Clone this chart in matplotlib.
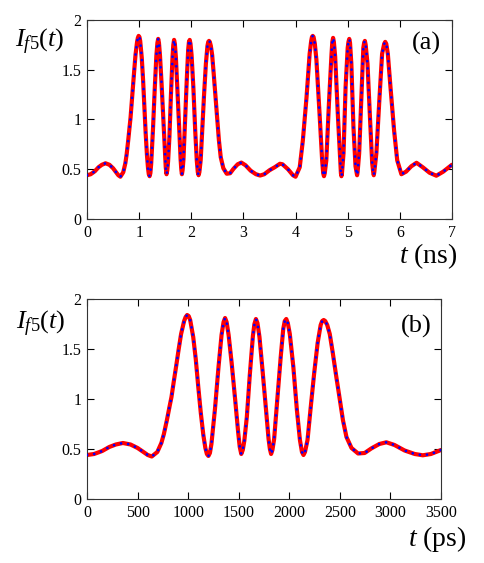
import matplotlib
matplotlib.use("Agg")
import matplotlib.pyplot as plt

plt.rcParams['font.family'] = ['Liberation Serif', 'DejaVu Serif']
plt.rcParams['mathtext.fontset'] = 'custom'
plt.rcParams['mathtext.rm'] = 'Liberation Serif'
plt.rcParams['mathtext.it'] = 'Liberation Serif:italic'

# panel (b): one pulse train, t in ps
t_ps = [0, 70, 150, 220, 285, 355, 430, 500, 565, 600, 640, 695, 735, 760, 790,
        815, 835, 860, 880, 905, 930, 960, 975, 990, 1005, 1020, 1050, 1075,
        1100, 1125, 1150, 1170, 1185, 1200, 1215, 1230, 1265, 1300, 1330, 1350,
        1365, 1380, 1400, 1430, 1465, 1495, 1510, 1525, 1540, 1555, 1580, 1610,
        1640, 1655, 1670, 1685, 1705, 1735, 1770, 1795, 1808, 1820, 1833, 1850,
        1880, 1915, 1940, 1955, 1970, 1985, 2005, 2040, 2075, 2105, 2125, 2140,
        2155, 2180, 2210, 2245, 2280, 2310, 2325, 2340, 2355, 2375, 2400, 2430,
        2465, 2500, 2530, 2565, 2615, 2680, 2745, 2810, 2890, 2960, 3040, 3140,
        3240, 3320, 3400, 3500]
i_ps = [0.44, 0.45, 0.48, 0.52, 0.545, 0.56, 0.545, 0.51, 0.465, 0.44, 0.425,
        0.47, 0.56, 0.65, 0.79, 0.92, 1.02, 1.19, 1.32, 1.49, 1.65, 1.78, 1.82,
        1.84, 1.83, 1.79, 1.62, 1.40, 1.12, 0.86, 0.64, 0.51, 0.45, 0.43, 0.46,
        0.55, 0.90, 1.32, 1.64, 1.77, 1.81, 1.77, 1.64, 1.36, 0.99, 0.66, 0.52,
        0.45, 0.49, 0.58, 0.82, 1.25, 1.63, 1.75, 1.80, 1.76, 1.62, 1.29, 0.89,
        0.60, 0.50, 0.45, 0.49, 0.60, 0.98, 1.42, 1.70, 1.78, 1.80, 1.76, 1.65,
        1.32, 0.89, 0.59, 0.47, 0.44, 0.47, 0.59, 0.90, 1.25, 1.56, 1.74, 1.78,
        1.79, 1.78, 1.74, 1.65, 1.46, 1.22, 0.99, 0.79, 0.62, 0.51, 0.455, 0.46,
        0.505, 0.55, 0.567, 0.54, 0.485, 0.45, 0.437, 0.45, 0.49]

# panel (a): second train, t in ns (first half is the same as panel (b))
t_ns_2 = [3.60, 3.70, 3.75, 3.855, 3.95, 4.00, 4.08, 4.14, 4.21, 4.27, 4.30,
          4.315, 4.33, 4.345, 4.37, 4.40, 4.46, 4.51, 4.53, 4.545, 4.56, 4.59,
          4.64, 4.69, 4.705, 4.72, 4.735, 4.76, 4.81, 4.86, 4.87, 4.88, 4.89,
          4.92, 4.96, 5.00, 5.015, 5.03, 5.045, 5.07, 5.11, 5.15, 5.17, 5.18,
          5.19, 5.22, 5.27, 5.30, 5.315, 5.33, 5.345, 5.38, 5.43, 5.47, 5.49,
          5.50, 5.51, 5.55, 5.61, 5.66, 5.70, 5.72, 5.74, 5.77, 5.82, 5.89,
          5.95, 6.03, 6.12, 6.22, 6.32, 6.44, 6.57, 6.70, 6.83, 7.00]
i_ns_2 = [0.52, 0.555, 0.55, 0.50, 0.44, 0.425, 0.52, 0.79, 1.22, 1.66, 1.79,
          1.83, 1.84, 1.83, 1.76, 1.60, 1.06, 0.59, 0.46, 0.43, 0.46, 0.59,
          1.16, 1.66, 1.78, 1.82, 1.78, 1.63, 1.06, 0.56, 0.46, 0.43, 0.46,
          0.66, 1.33, 1.72, 1.78, 1.81, 1.77, 1.56, 0.93, 0.53, 0.47, 0.44,
          0.47, 0.66, 1.33, 1.72, 1.77, 1.79, 1.75, 1.56, 0.99, 0.56, 0.47,
          0.44, 0.47, 0.66, 1.22, 1.66, 1.76, 1.78, 1.76, 1.66, 1.33, 0.89,
          0.59, 0.45, 0.476, 0.53, 0.565, 0.52, 0.465, 0.435, 0.475, 0.545]

t_ns = [t / 1000 for t in t_ps] + t_ns_2
i_ns = i_ps + i_ns_2

y_ticks = [0, 0.5, 1, 1.5, 2]
y_labels = ['0', '0.5', '1', '1.5', '2']


def dibujar(ax, t, y):
    ax.plot(t, y, color='#ff0000', lw=3.0, solid_capstyle='round',
            solid_joinstyle='round', zorder=2)
    ax.plot(t, y, color='#0000ff', lw=2.0, linestyle=(0, (0.01, 2.6)),
            dash_capstyle='round', zorder=3)
    ax.set_ylim(0, 2)
    ax.set_yticks(y_ticks)
    ax.set_yticklabels(y_labels)
    ax.tick_params(direction='in', top=True, right=True, length=5, width=0.8,
                   labelsize=11.5, pad=4)
    for s in ax.spines.values():
        s.set_linewidth(0.8)
        s.set_color('#333333')


fig = plt.figure(figsize=(4.84, 5.63), dpi=100)

ax1 = fig.add_axes([0.1798, 0.611, 0.754, 0.3535])
dibujar(ax1, t_ns, i_ns)
ax1.set_xlim(0, 7)
ax1.set_xticks(range(8))
ax1.text(-0.13, 0.89, r'$I_{f5}(t)$', transform=ax1.transAxes, fontsize=19,
         ha='center', va='center')
ax1.text(0.93, 0.88, '(a)', transform=ax1.transAxes, fontsize=19,
         ha='center', va='center')
ax1.text(1.016, -0.185, r'$t$ (ns)', transform=ax1.transAxes, fontsize=20,
         ha='right', va='center')

ax2 = fig.add_axes([0.1798, 0.1137, 0.7314, 0.3552])
dibujar(ax2, t_ps, i_ps)
ax2.set_xlim(0, 3500)
ax2.set_xticks(range(0, 3501, 500))
ax2.text(-0.13, 0.875, r'$I_{f5}(t)$', transform=ax2.transAxes, fontsize=19,
         ha='center', va='center')
ax2.text(0.929, 0.865, '(b)', transform=ax2.transAxes, fontsize=19,
         ha='center', va='center')
ax2.text(1.073, -0.2, r'$t$ (ps)', transform=ax2.transAxes, fontsize=20,
         ha='right', va='center')

fig.savefig('out.png', dpi=100)
